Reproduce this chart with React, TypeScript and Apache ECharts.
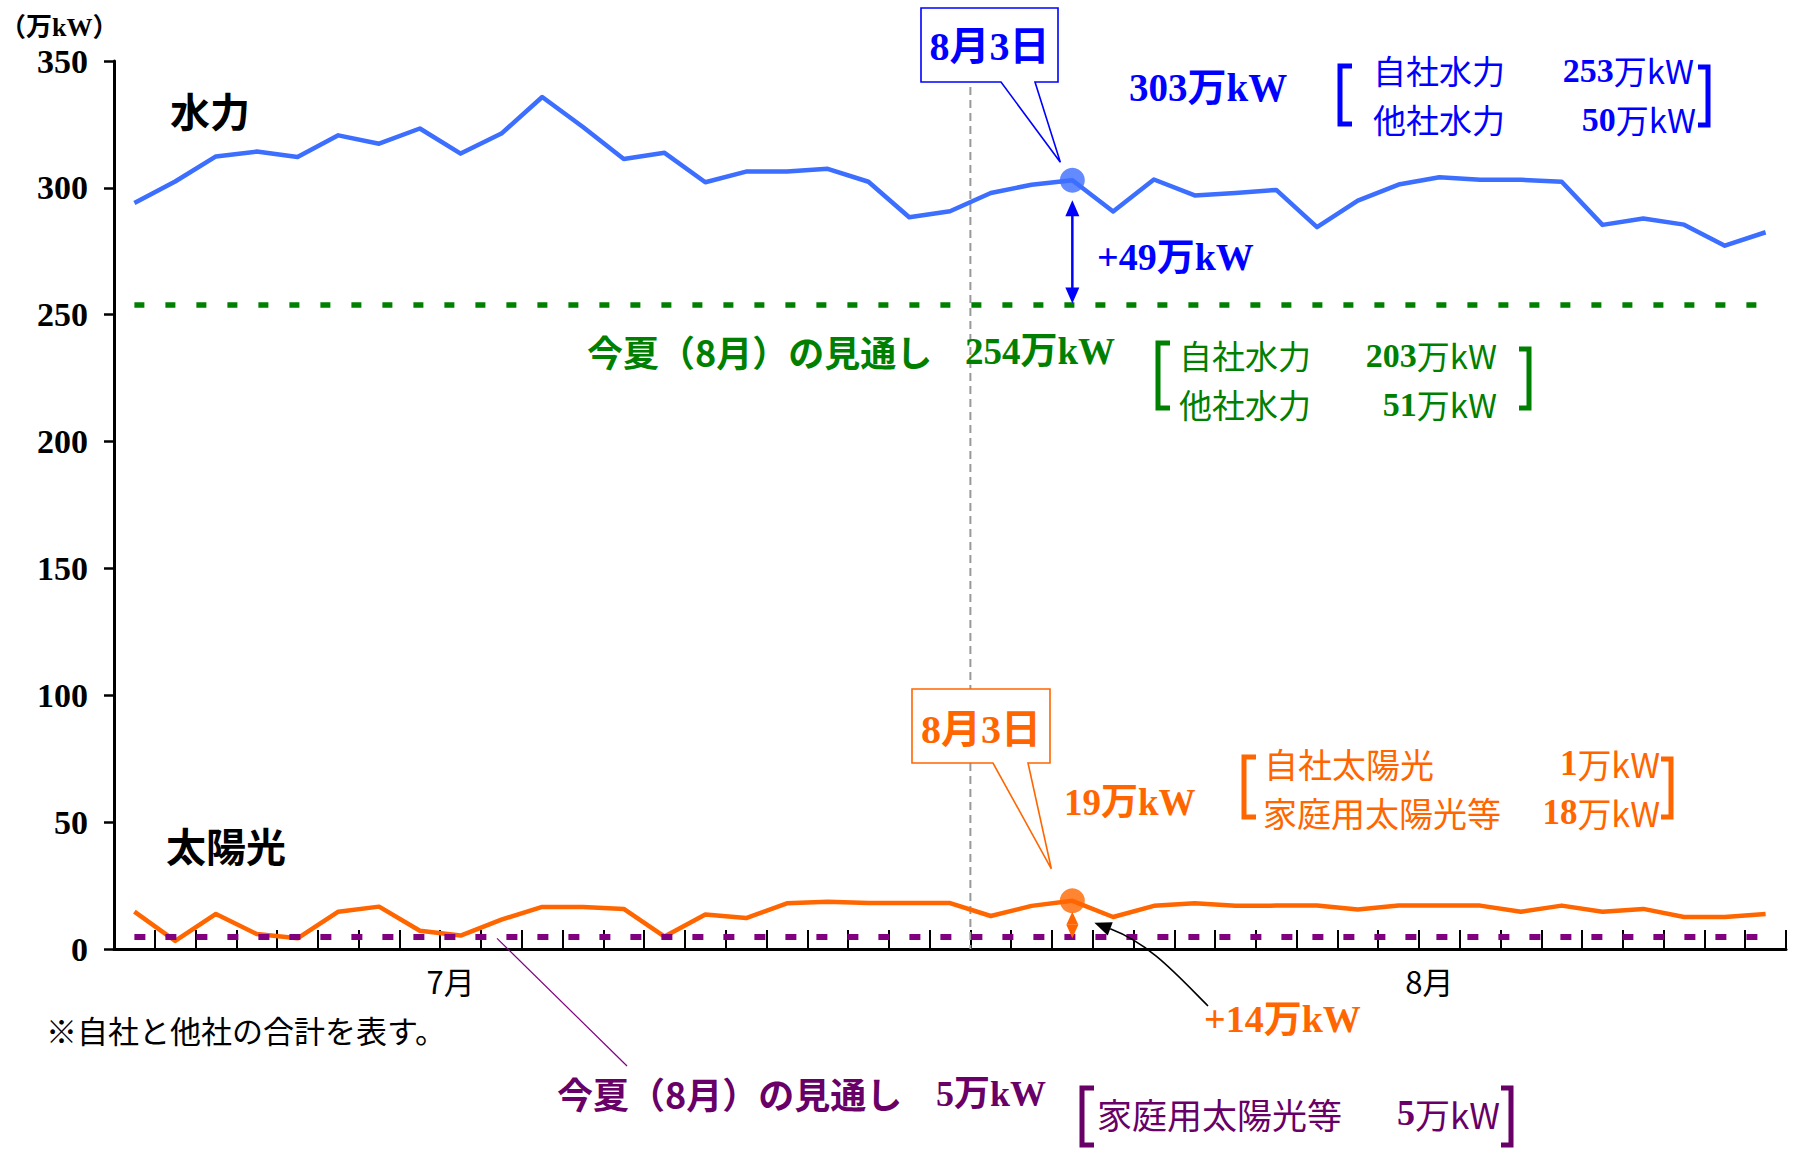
import React, { useEffect, useRef } from "react";
import * as echarts from "echarts";

// ---- data ----
const dates = [
  "7/11", "7/12", "7/13", "7/14", "7/15", "7/16", "7/17", "7/18", "7/19", "7/20",
  "7/21", "7/22", "7/23", "7/24", "7/25", "7/26", "7/27", "7/28", "7/29", "7/30",
  "7/31", "8/1", "8/2", "8/3", "8/4", "8/5", "8/6", "8/7", "8/8", "8/9",
  "8/10", "8/11", "8/12", "8/13", "8/14", "8/15", "8/16", "8/17", "8/18", "8/19",
  "8/20",
];
const hydro = [
  294, 302.5, 312.4, 314.3, 312.2, 320.7, 317.4, 323.4, 313.5, 321.4,
  335.8, 324, 311.4, 313.8, 302.2, 306.4, 306.4, 307.5, 302.4, 288.4,
  290.8, 298, 301.2, 303, 290.7, 303.3, 297, 298, 299.2, 284.5,
  295, 301.3, 304.2, 303.2, 303.2, 302.4, 285.4, 287.9, 285.5, 277.2,
  282.5,
];
const solar = [
  14.7, 3.2, 13.8, 5.9, 4.2, 14.7, 16.7, 7.2, 5.3, 11.6,
  16.6, 16.6, 15.8, 4.9, 13.6, 12.2, 18.0, 18.6, 18.1, 18.1,
  18.1, 13.0, 17.0, 19, 12.6, 17.0, 18.0, 17.0, 17.1, 17.1,
  15.6, 17.1, 17.1, 17.1, 14.7, 17.1, 14.7, 15.8, 12.6, 12.6,
  13.8,
];
const hydroOutlook = 254;
const solarOutlook = 5;
const highlightIndex = 23; // 8月3日
const monthBoundaryIndex = 20; // last day of July
const monthLabelDates = ["7/19", "8/12"];
const monthLabels = ["7月", "8月"];
const yMin = 0;
const yMax = 350;
const yInterval = 50;

// ---- styles ----
const SERIF = '"Liberation Serif", "Noto Sans CJK JP", serif';
const SANS = '"Noto Sans CJK JP", "Noto Sans", sans-serif';
const BLUE_LINE = "#3c6eff";
const BLUE_TEXT = "#0000ff";
const ORANGE = "#ff6600";
const GREEN = "#008000";
const PURPLE_LINE = "#800080";
const PURPLE_TEXT = "#680068";
const BR_FONT = 33;

function buildOption(): any {
  return {
    animation: false,
    backgroundColor: "#ffffff",
    textStyle: { fontFamily: SANS },
    grid: { left: 114, right: 12, top: 61, bottom: 203, containLabel: false, outerBoundsMode: "none" },
    xAxis: {
      type: "category",
      data: dates,
      boundaryGap: true,
      axisLine: { show: true, lineStyle: { color: "#000", width: 3 } },
      axisTick: { show: true, inside: true, length: 19, interval: 0, lineStyle: { color: "#000", width: 2 } },
      axisLabel: {
        show: true,
        interval: 0,
        margin: 16,
        padding: [0, 20, 0, 0],
        color: "#000",
        fontSize: 31,
        fontFamily: SANS,
        formatter: (v: string) => {
          const k = monthLabelDates.indexOf(v);
          return k >= 0 ? monthLabels[k] : "";
        },
      },
      splitLine: { show: false },
    },
    yAxis: {
      type: "value",
      min: yMin,
      max: yMax,
      interval: yInterval,
      axisLine: { show: true, lineStyle: { color: "#000", width: 3 } },
      axisTick: { show: true, inside: false, length: 10, lineStyle: { color: "#000", width: 2.5 } },
      axisLabel: { color: "#000", fontSize: 34, fontWeight: "bold", fontFamily: SERIF, margin: 26 },
      splitLine: { show: false },
    },
    series: [
      {
        name: "水力",
        type: "line",
        data: hydro,
        showSymbol: false,
        symbol: "none",
        z: 3,
        lineStyle: { color: BLUE_LINE, width: 4.5, join: "round" },
        markLine: {
          silent: true,
          symbol: "none",
          label: { show: false },
          emphasis: { disabled: true },
          lineStyle: { color: GREEN, width: 5.5, type: [10, 21], cap: "butt" },
          data: [[{ coord: [dates[0], hydroOutlook] }, { coord: [dates[dates.length - 1], hydroOutlook] }]],
        },
      },
      {
        name: "太陽光",
        type: "line",
        data: solar,
        showSymbol: false,
        symbol: "none",
        z: 3,
        lineStyle: { color: ORANGE, width: 4.5, join: "round" },
        markLine: {
          silent: true,
          symbol: "none",
          label: { show: false },
          emphasis: { disabled: true },
          lineStyle: { color: PURPLE_LINE, width: 6, type: [11, 20], cap: "butt" },
          data: [[{ coord: [dates[0], solarOutlook] }, { coord: [dates[dates.length - 1], solarOutlook] }]],
        },
      },
      {
        name: "水力8月3日",
        type: "scatter",
        z: 5,
        symbol: "circle",
        symbolSize: 25,
        itemStyle: { color: BLUE_LINE },
        data: [[highlightIndex, hydro[highlightIndex]]],
      },
      {
        name: "太陽光8月3日",
        type: "scatter",
        z: 5,
        symbol: "circle",
        symbolSize: 25,
        itemStyle: { color: ORANGE },
        data: [[highlightIndex, solar[highlightIndex]]],
      },
    ],
  };
}

function text(t: string, x: number, y: number, o: any): any {
  return {
    type: "text",
    x,
    y,
    z: 30,
    silent: true,
    style: {
      text: t,
      fill: o.color || "#000",
      fontSize: o.size || 30,
      fontFamily: o.family || SANS,
      fontWeight: o.weight || "normal",
      textAlign: o.align || "left",
      textVerticalAlign: "middle",
      align: o.align || "left",
      verticalAlign: "middle",
      textShadowColor: o.shadow ? "rgba(0,0,0,0.35)" : undefined,
      textShadowOffsetX: o.shadow ? 2 : 0,
      textShadowOffsetY: o.shadow ? 2 : 0,
      textShadowBlur: 0,
    },
  };
}

function valueText(num: string, unit: string, x: number, y: number, color: string, size: number, shadow = false): any {
  return {
    type: "text",
    x,
    y,
    z: 30,
    silent: true,
    style: {
      text: `{d|${num}}{u|${unit}}`,
      fill: color,
      textAlign: "right",
      textVerticalAlign: "middle",
      align: "right",
      verticalAlign: "middle",
      textShadowColor: shadow ? "rgba(0,0,0,0.3)" : undefined,
      textShadowOffsetX: shadow ? 2 : 0,
      textShadowOffsetY: shadow ? 2 : 0,
      rich: {
        d: { fontFamily: SERIF, fontWeight: "bold", fontSize: size + 1, fill: color, color },
        u: { fontFamily: SANS, fontWeight: "normal", fontSize: size, fill: color, color },
      },
    },
  };
}

function bracket(x: number, top: number, bottom: number, w: number, color: string, lw = 5): any {
  return {
    type: "polyline",
    z: 30,
    silent: true,
    shape: { points: [[x + w, top], [x, top], [x, bottom], [x + w, bottom]] },
    style: { stroke: color, lineWidth: lw, fill: null, lineJoin: "miter" },
  };
}

function callout(L: number, T: number, R: number, B: number, b1: number, b2: number, tip: number[], color: string): any {
  return {
    type: "polygon",
    z: 25,
    silent: true,
    shape: { points: [[L, T], [R, T], [R, B], [b2, B], tip, [b1, B], [L, B]] },
    style: { fill: "#ffffff", stroke: color, lineWidth: 1.6 },
  };
}

function tri(tipX: number, tipY: number, baseY: number, half: number, color: string): any {
  return {
    type: "polygon",
    z: 28,
    silent: true,
    shape: { points: [[tipX, tipY], [tipX - half, baseY], [tipX + half, baseY]] },
    style: { fill: color, stroke: null },
  };
}

export default function App() {
  const ref = useRef<HTMLDivElement>(null);
  useEffect(() => {
    document.body.style.margin = "0";
    document.body.style.overflow = "hidden";
    const el = ref.current!;
    const chart = echarts.init(el, null, { renderer: "svg" });
    chart.setOption(buildOption());

    const px = (i: number, v: number) => chart.convertToPixel({ seriesIndex: 0 }, [i, v]) as number[];
    const hi = highlightIndex;
    const [hx, hy] = px(hi, hydro[hi]);
    const [, gy] = px(hi, hydroOutlook);
    const [sx, sy] = px(hi, solar[hi]);
    const [, py] = px(hi, solarOutlook);
    const [xa] = px(monthBoundaryIndex, 0);
    const [xb] = px(monthBoundaryIndex + 1, 0);
    const midX = (xa + xb) / 2;
    const [, yTop] = px(0, yMax);
    const [, yBot] = px(0, yMin);

    // curved black arrow (from +14万kW label to the solar point)
    const c0 = [1208, 1006];
    const c1 = [1176, 974];
    const c2 = [1150, 944];
    const c3 = [sx + 22, sy + 22];
    const dx = c3[0] - c2[0];
    const dy = c3[1] - c2[1];
    const len = Math.hypot(dx, dy);
    const ux = dx / len;
    const uy = dy / len;
    const headLen = 17;
    const headHalf = 7;
    const hbx = c3[0] - ux * headLen;
    const hby = c3[1] - uy * headLen;

    const elements: any[] = [
      // month boundary dashed line
      {
        type: "line",
        z: 1,
        silent: true,
        shape: { x1: midX, y1: yTop, x2: midX, y2: yBot },
        style: { stroke: "#999999", lineWidth: 2, lineDash: [8, 5] },
      },
      // unit and series titles
      text("（万kW）", 0, 27, { size: 26, family: SERIF, weight: "bold" }),
      text("水力", 170, 110, { size: 40, weight: "bold" }),
      text("太陽光", 166, 845, { size: 40, weight: "bold" }),
      text("※自社と他社の合計を表す。", 46, 1029, { size: 31 }),

      // ---- hydro annotations ----
      callout(921, 8, 1058, 82, 1001, 1035, [hx - 12, hy - 18], BLUE_TEXT),
      text("8月3日", 989.5, 46, { size: 40, family: SERIF, weight: "bold", color: BLUE_TEXT, align: "center" }),
      {
        type: "line",
        z: 27,
        silent: true,
        shape: { x1: hx, y1: hy + 32, x2: hx, y2: gy - 12 },
        style: { stroke: BLUE_TEXT, lineWidth: 2.5 },
      },
      tri(hx, hy + 20, hy + 36, 7, BLUE_TEXT),
      tri(hx, gy - 1, gy - 17, 7, BLUE_TEXT),
      text("+49万kW", 1097, 257, { size: 38, family: SERIF, weight: "bold", color: BLUE_TEXT }),
      text("303万kW", 1129, 87, { size: 39, family: SERIF, weight: "bold", color: BLUE_TEXT }),
      bracket(1340, 66, 124, 12, BLUE_TEXT),
      bracket(1708, 67, 125, -10, BLUE_TEXT),
      text("自社水力", 1373, 70, { size: BR_FONT, color: BLUE_TEXT }),
      text("他社水力", 1373, 119, { size: BR_FONT, color: BLUE_TEXT }),
      valueText("253", "万kW", 1694, 70, BLUE_TEXT, BR_FONT),
      valueText("50", "万kW", 1696, 119, BLUE_TEXT, BR_FONT),

      // ---- hydro outlook ----
      text("今夏（8月）の見通し", 587, 351, { size: 36, weight: "bold", color: GREEN, shadow: true }),
      text("254万kW", 965, 351, { size: 37, family: SERIF, weight: "bold", color: GREEN, shadow: true }),
      bracket(1158, 343, 408, 12, GREEN),
      bracket(1529, 349, 408, -10, GREEN),
      text("自社水力", 1179, 355, { size: BR_FONT, color: GREEN, shadow: true }),
      text("他社水力", 1179, 404, { size: BR_FONT, color: GREEN, shadow: true }),
      valueText("203", "万kW", 1497, 355, GREEN, BR_FONT, true),
      valueText("51", "万kW", 1497, 404, GREEN, BR_FONT, true),

      // ---- solar annotations ----
      callout(912, 689, 1050, 763, 993, 1028, [sx - 21, sy - 32], ORANGE),
      text("8月3日", 981, 729, { size: 40, family: SERIF, weight: "bold", color: ORANGE, align: "center" }),
      text("19万kW", 1064, 802, { size: 37, family: SERIF, weight: "bold", color: ORANGE }),
      bracket(1244, 757, 817, 12, ORANGE),
      bracket(1671, 759, 817, -10, ORANGE),
      text("自社太陽光", 1264, 763, { size: BR_FONT + 1, color: ORANGE }),
      text("家庭用太陽光等", 1263, 812, { size: BR_FONT + 1, color: ORANGE }),
      valueText("1", "万kW", 1660, 763, ORANGE, BR_FONT + 1),
      valueText("18", "万kW", 1660, 812, ORANGE, BR_FONT + 1),
      tri(sx, sy + 11, sy + 24, 6, ORANGE),
      tri(sx, py + 2, sy + 24, 6, ORANGE),
      {
        type: "bezierCurve",
        z: 27,
        silent: true,
        shape: { x1: c0[0], y1: c0[1], cpx1: c1[0], cpy1: c1[1], cpx2: c2[0], cpy2: c2[1], x2: hbx, y2: hby },
        style: { stroke: "#000", lineWidth: 1.6, fill: null },
      },
      {
        type: "polygon",
        z: 28,
        silent: true,
        shape: {
          points: [
            [c3[0], c3[1]],
            [hbx - uy * headHalf, hby + ux * headHalf],
            [hbx + uy * headHalf, hby - ux * headHalf],
          ],
        },
        style: { fill: "#000", stroke: null },
      },
      text("+14万kW", 1204, 1019, { size: 38, family: SERIF, weight: "bold", color: ORANGE }),

      // ---- solar outlook ----
      {
        type: "line",
        z: 27,
        silent: true,
        shape: { x1: 497, y1: py + 2, x2: 627, y2: 1066 },
        style: { stroke: PURPLE_LINE, lineWidth: 1.2 },
      },
      text("今夏（8月）の見通し", 557, 1093, { size: 36, weight: "bold", color: PURPLE_TEXT, shadow: true }),
      text("5万kW", 936, 1094, { size: 36, family: SERIF, weight: "bold", color: PURPLE_TEXT, shadow: true }),
      bracket(1082, 1088, 1145, 12, PURPLE_TEXT),
      bracket(1511, 1088, 1145, -10, PURPLE_TEXT),
      text("家庭用太陽光等", 1097, 1113, { size: 35, color: PURPLE_TEXT, shadow: true }),
      valueText("5", "万kW", 1500, 1113, PURPLE_TEXT, 35, true),
    ];

    chart.setOption({ graphic: { elements } });
    return () => chart.dispose();
  }, []);
  return <div ref={ref} style={{ width: 1798, height: 1152 }} />;
}
